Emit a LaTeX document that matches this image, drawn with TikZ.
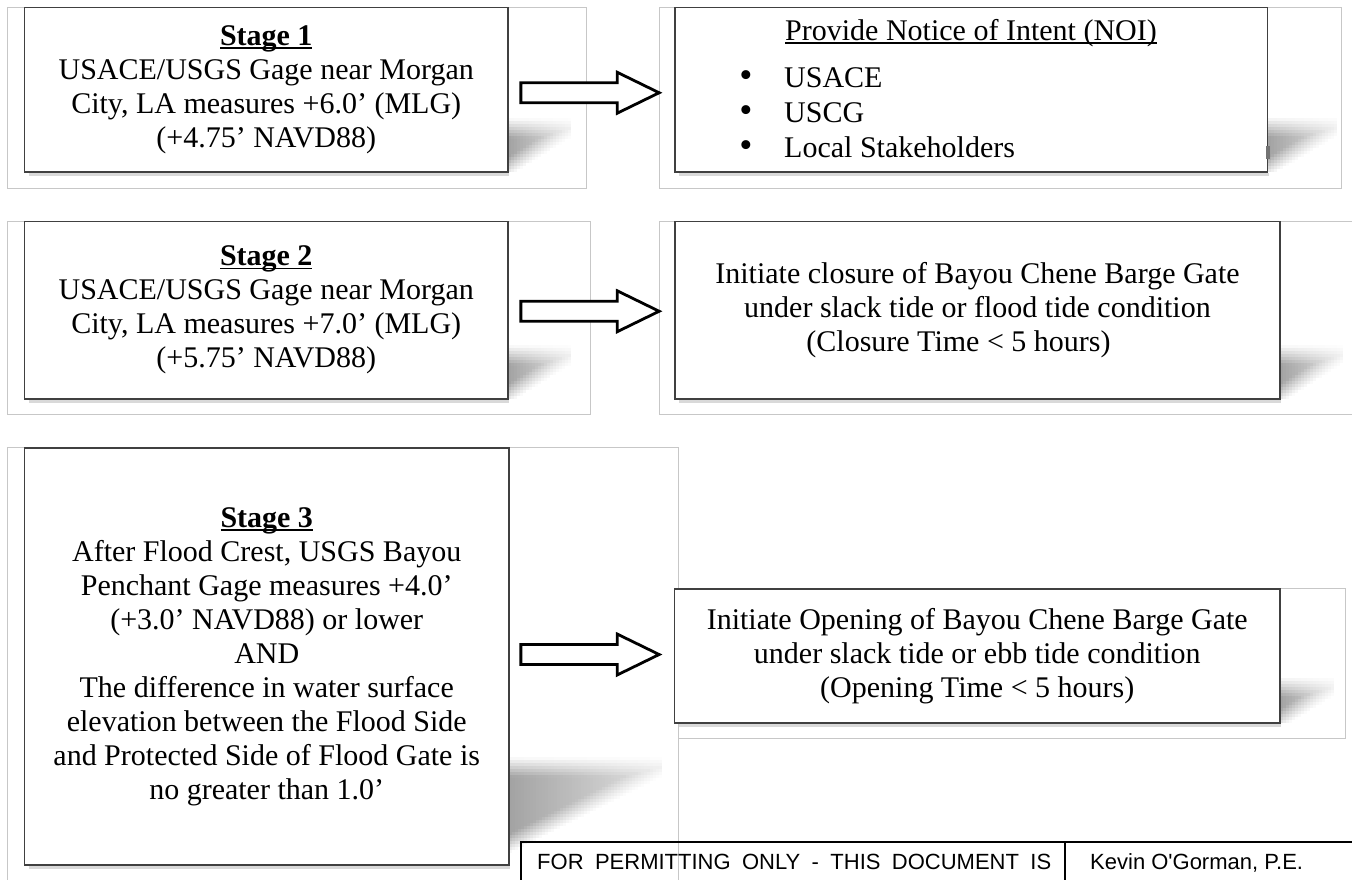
\documentclass[tikz,border=0pt]{standalone}
\usepackage{fontspec}
\setmainfont{Liberation Serif}
\newfontfamily\footfont{Liberation Sans}
\usetikzlibrary{calc}
\newsavebox\ulbox
\newcommand\myul[1]{\sbox\ulbox{#1}\rlap{\rule[-3.5pt]{\wd\ulbox}{1.5pt}}\usebox\ulbox}
% soft perspective shadow drawn as a fine raster of grey cells
% #1,#2 = bottom-right corner of box, #3 = reach, #4 = band bottom height at box, #5 = top height, #6 = max darkness
\newcommand\rastershadow[6]{%
  \pgfmathtruncatemacro\vmax{#5+10}%
  \foreach \u in {-3,0,...,#3}{%
    \foreach \v in {0,3,...,\vmax}{%
      \pgfmathsetmacro\tt{max(0,\u)/#3}%
      \pgfmathsetmacro\vl{#4+(#5-#4)*\tt}%
      \pgfmathsetmacro\mm{min(\v+1.5-\vl,#5-\v-1.5)}%
      \pgfmathsetmacro\ss{min(1,max(0,(\mm+10)/20))}%
      \pgfmathsetmacro\II{100*#6*(1-0.7*\tt)*\ss}%
      \ifdim\II pt>0.8pt
        \fill[black!\II] (#1+\u,#2-\v-3.3) rectangle (#1+\u+3.3,#2-\v);
      \fi}}}
\newcommand\bottomshade[3]{%
  \draw[black!15, line width=3pt] (#1+4,#3+2.5) -- (#2+1,#3+2.5);}
\newcommand\blockarrow[2]{%
  \draw[blockarr] let \p1=(#1), \p2=(#2) in
    (\x1,\y1+10pt) -- (\x2-42pt,\y1+10pt) -- (\x2-42pt,\y1+20.5pt) -- (\x2,\y1)
    -- (\x2-42pt,\y1-20.5pt) -- (\x2-42pt,\y1-10pt) -- (\x1,\y1-10pt) -- cycle;}
\begin{document}
\begin{tikzpicture}[x=1pt,y=-1pt,
  frame/.style={draw=black!22, line width=1pt},
  box/.style={draw=black!75, line width=1.7pt, fill=white, align=center,
    inner sep=0pt, font=\fontsize{30}{34}\selectfont},
  txt/.style={inner sep=0pt, font=\fontsize{30}{34}\selectfont},
  blockarr/.style={draw=black, line width=2.8pt, fill=white, line join=miter},
  foot/.style={font=\footfont\fontsize{22}{24}\selectfont, inner sep=0pt, anchor=base west},
  rule/.style={draw=black, line width=1.5pt}]
\fill[white] (0,0) rectangle (1352,879);
\useasboundingbox (0,0) rectangle (1352,879);

% outer light frames
\draw[frame] (7,7) rectangle (586,188);
\draw[frame] (659,7) rectangle (1341,188);
\draw[frame] (7,221) rectangle (590,414);
\draw[frame] (659,221) rectangle (1370,414);
\draw[frame] (7,447) rectangle (678,900);
\draw[frame, fill=white] (678,588) rectangle (1345,738);

% shadows
\rastershadow{508}{172}{62}{6}{44}{0.36}
\rastershadow{1268}{172}{68}{6}{45}{0.36}
\rastershadow{508}{399}{62}{6}{44}{0.36}
\rastershadow{1280}{399}{60}{6}{44}{0.36}
\rastershadow{509}{865}{152}{22}{98}{0.36}
\rastershadow{1280}{723}{52}{5}{36}{0.36}
\bottomshade{24.5}{508}{172}
\bottomshade{675}{1268}{172}
\bottomshade{24.5}{508}{399}
\bottomshade{675}{1280}{399}
\bottomshade{24.5}{509}{865}
\bottomshade{674.5}{1280}{723}

% boxes
\node[box, minimum width=483.5pt, minimum height=164.5pt] (s1) at (266.25,89.75)
  {\myul{\textbf{Stage 1}}\\USACE/USGS Gage near Morgan\\City, LA measures +6.0’ (MLG)\\(+4.75’ NAVD88)};
\node[box, minimum width=592.5pt, minimum height=164.5pt] (n1) at (971.25,89.75) {};
\fill[black!55] (1266,146) rectangle (1269.5,159);
\node[txt, anchor=base] (t1) at (971,40) {\myul{Provide Notice of Intent (NOI)}};
\node[txt, anchor=base] (b1) at (746,87) {\scalebox{1.25}{\textbullet}};
\node[txt, anchor=base] (b2) at (746,122) {\scalebox{1.25}{\textbullet}};
\node[txt, anchor=base] (b3) at (746,157) {\scalebox{1.25}{\textbullet}};
\node[txt, anchor=base west] (i1) at (784,87) {USACE};
\node[txt, anchor=base west] (i2) at (784,122) {USCG};
\node[txt, anchor=base west] (i3) at (784,157) {Local Stakeholders};

\node[box, minimum width=483.5pt, minimum height=177.5pt] (s2) at (266.25,310.25)
  {\myul{\textbf{Stage 2}}\\USACE/USGS Gage near Morgan\\City, LA measures +7.0’ (MLG)\\(+5.75’ NAVD88)};
\node[box, minimum width=605pt, minimum height=177.5pt] (n2) at (977.5,310.25)
  {Initiate closure of Bayou Chene Barge Gate\\under slack tide or flood tide condition\\(Closure Time < 5 hours)\hspace*{38pt}};

\node[box, minimum width=484.5pt, minimum height=417pt] (s3) at (266.75,656.5)
  {\myul{\textbf{Stage 3}}\\After Flood Crest, USGS Bayou\\Penchant Gage measures +4.0’\\(+3.0’ NAVD88) or lower\\AND\\The difference in water surface\\elevation between the Flood Side\\and Protected Side of Flood Gate is\\no greater than 1.0’};
\node[box, minimum width=605.5pt, minimum height=134pt] (n3) at (977.25,656)
  {Initiate Opening of Bayou Chene Barge Gate\\under slack tide or ebb tide condition\\(Opening Time < 5 hours)};

% block arrows
\coordinate (a1s) at ($(s1.east)+(12,3)$);
\coordinate (a1e) at ($(n1.west)+(-15,3)$);
\coordinate (a2s) at ($(s2.east)+(12,1)$);
\coordinate (a2e) at ($(n2.west)+(-15,1)$);
\coordinate (a3s) at ($(s3.east)+(11,-2)$);
\coordinate (a3e) at ($(n3.west)+(-14.5,-2)$);
\blockarrow{a1s}{a1e}
\blockarrow{a2s}{a2e}
\blockarrow{a3s}{a3e}

% footer
\coordinate (fL) at (521,842);
\coordinate (fR) at (1360,842);
\coordinate (fLb) at (521,885);
\coordinate (fD) at (1065,842);
\coordinate (fDb) at (1065,885);
\draw[rule] (fLb) -- (fL) -- (fR);
\draw[rule] (fD) -- (fDb);
\node[foot] (ft1) at (537,869) {\makebox[514pt][s]{FOR PERMITTING ONLY - THIS DOCUMENT IS}};
\node[foot] (ft2) at (1090,869) {Kevin O'Gorman, P.E.};
\end{tikzpicture}
\end{document}
